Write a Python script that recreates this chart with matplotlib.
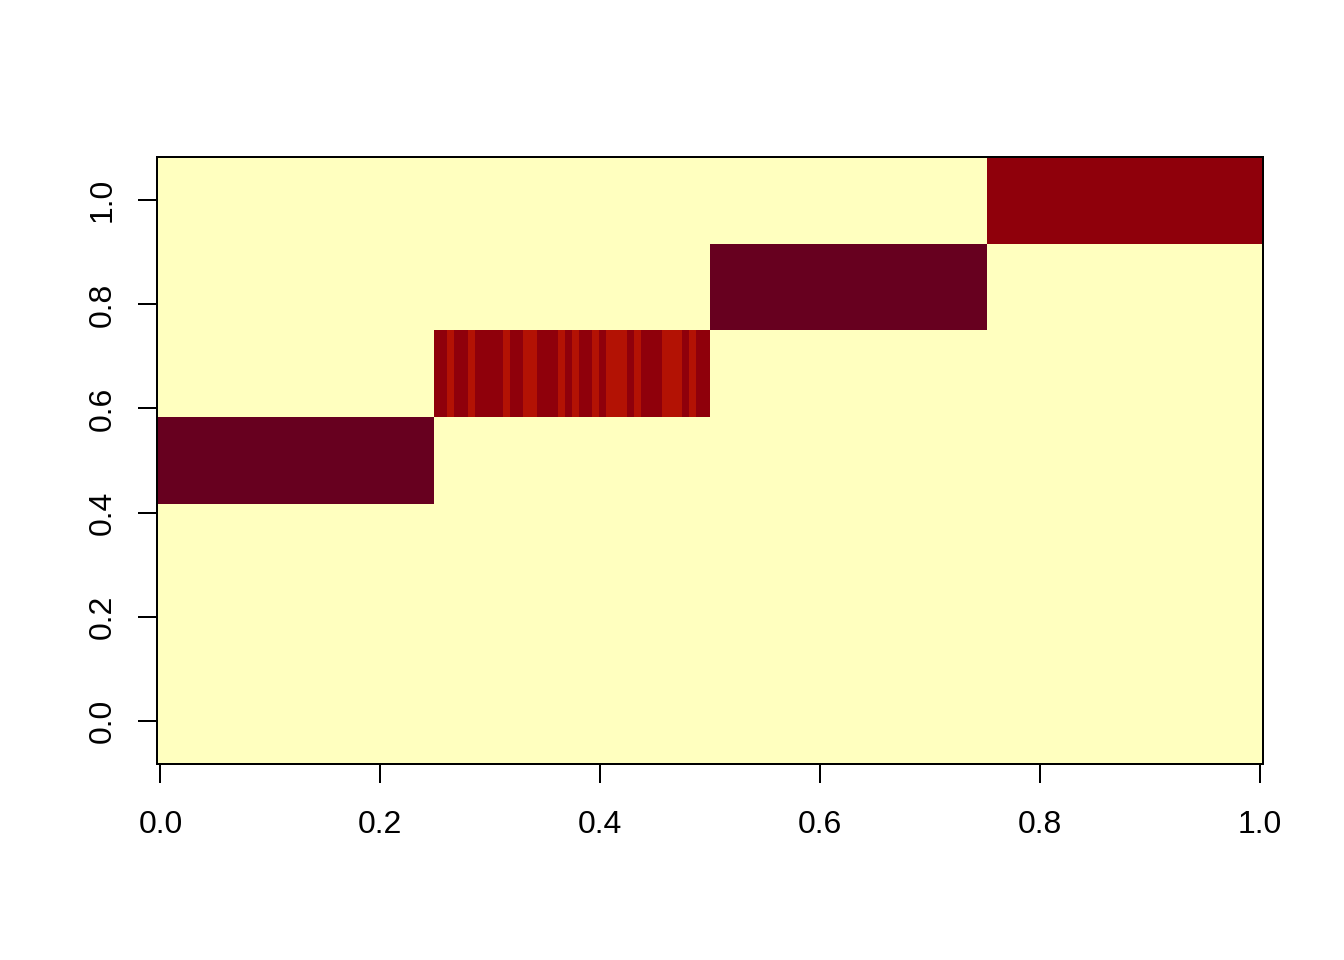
import matplotlib
matplotlib.use("Agg")
import matplotlib.pyplot as plt
from matplotlib.colors import ListedColormap
import numpy as np

# grid: 160 columns on [0, 1], 7 rows on [0, 1]
n_cols = 160
x = np.linspace(0, 1, n_cols)
y = [0, 1/6, 2/6, 3/6, 4/6, 5/6, 1]

# levels: 0 background, 1 light red, 2 red, 3 maroon
stripes_q2 = [2, 2, 1, 2, 2, 1, 2, 2, 2, 2, 1, 2, 2, 1, 1, 2, 2, 2, 1, 2,
              1, 2, 2, 1, 2, 1, 1, 1, 2, 1, 2, 2, 2, 1, 1, 1, 2, 1, 2, 2]
block_rows = [3, 4, 5, 6]
block_levels = [3, None, 3, 2]

z = np.zeros((len(y), n_cols))
for k, (row, lev) in enumerate(zip(block_rows, block_levels)):
    sl = slice(k * 40, (k + 1) * 40)
    z[row, sl] = stripes_q2 if lev is None else lev

colores = ['#FFFFBF', '#B31204', '#8F000B', '#67001F']
cmap = ListedColormap(colores)

plt.rcParams['font.family'] = ['Liberation Sans', 'DejaVu Sans']
plt.rcParams['font.size'] = 12

fig = plt.figure(figsize=(7, 5), dpi=192)
ax = fig.add_axes([157/1344, 1 - 764/960, (1263 - 157)/1344, (764 - 157)/960])
ax.pcolormesh(x, y, z, shading='nearest', cmap=cmap, vmin=-0.5, vmax=3.5,
              antialiased=False, linewidth=0)

ax.set_xlim(-0.5/159, 1 + 0.5/159)
ax.set_ylim(-1/12, 1 + 1/12)

ticks = [0.0, 0.2, 0.4, 0.6, 0.8, 1.0]
ax.set_xticks(ticks, [f'{t:.1f}' for t in ticks])
ax.set_yticks(ticks, [f'{t:.1f}' for t in ticks], rotation=90, va='center')
ax.tick_params(direction='out', length=7.2, width=0.75, color='black')
ax.tick_params(axis='x', pad=10)
ax.tick_params(axis='y', pad=7.5)
for s in ax.spines.values():
    s.set_linewidth(0.75)
    s.set_color('black')

fig.savefig('out.png', dpi=192)
